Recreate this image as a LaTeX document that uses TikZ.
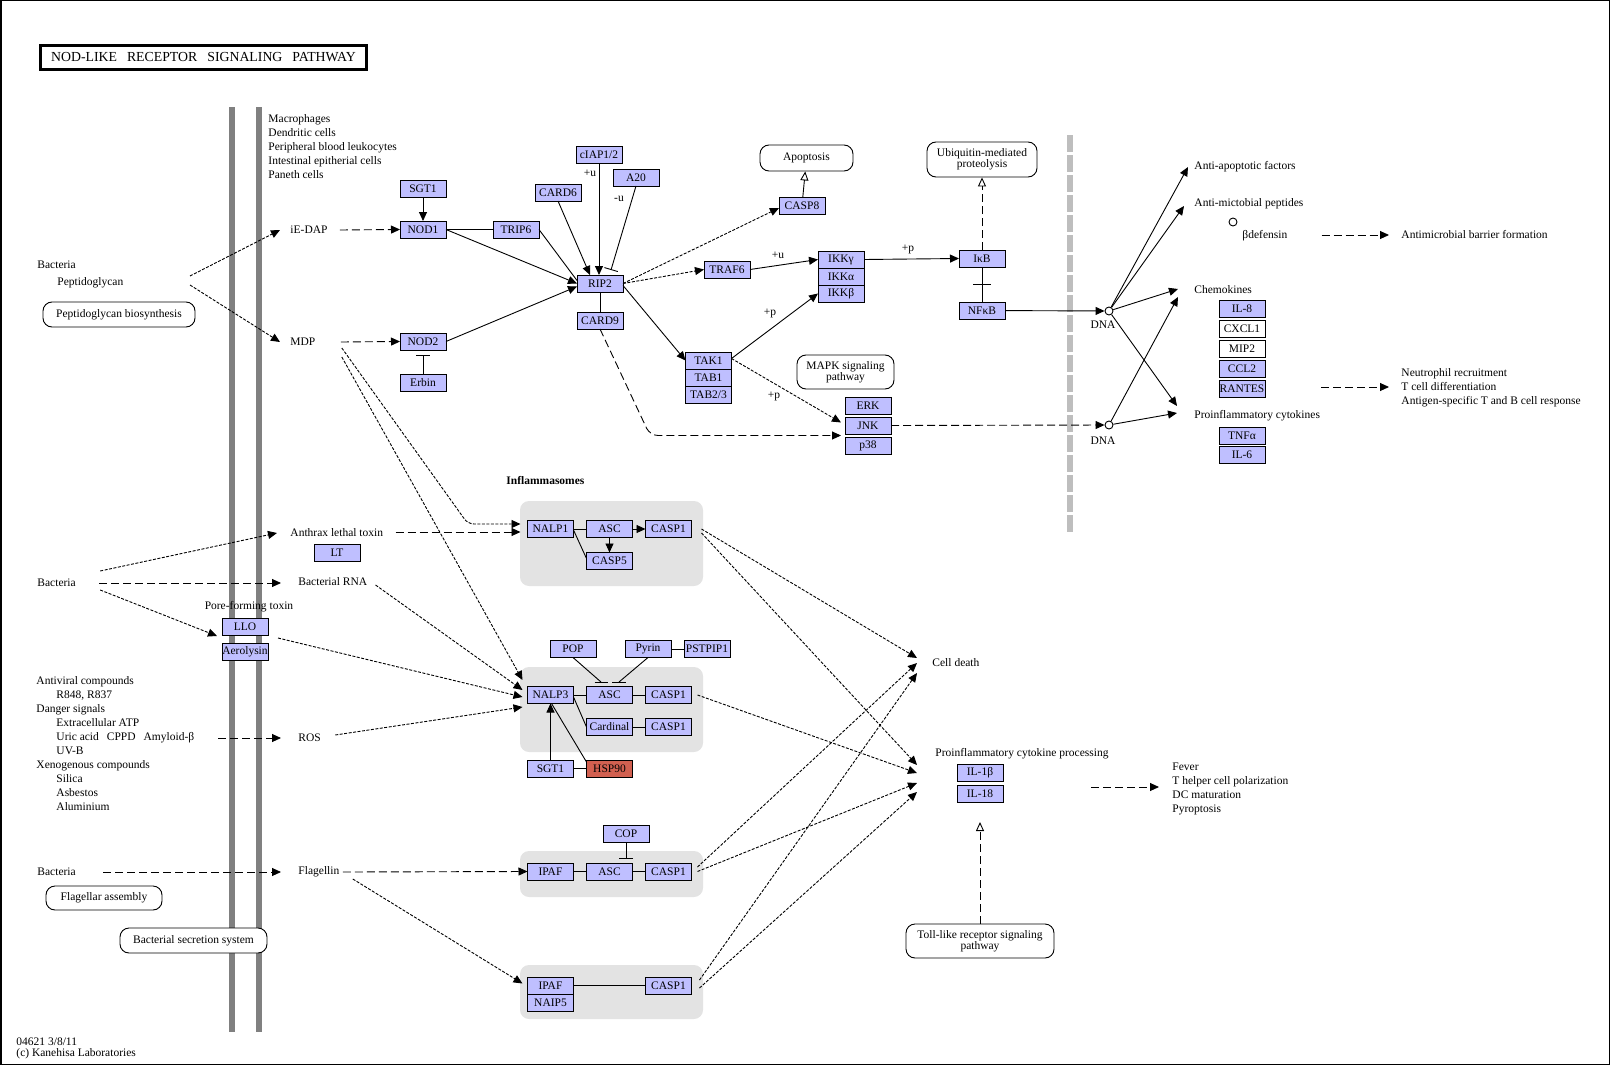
\documentclass[tikz,border=0pt]{standalone}
\usepackage{fontspec}
\setmainfont{Liberation Serif}
\usetikzlibrary{arrows.meta, positioning}
\usepackage{xcolor}

\definecolor{keggblue}{RGB}{191,191,255}
\definecolor{keggred}{RGB}{209,96,80}
\definecolor{infgray}{RGB}{227,227,227}
\definecolor{membgray}{RGB}{128,128,128}
\definecolor{nucgray}{RGB}{190,190,190}
\newcommand{\kgfont}{\fontsize{11.5}{14}\selectfont}

\begin{document}
\begin{tikzpicture}[
x=1pt, y=-1pt,
node distance=13pt,
line width=0.9pt,
gene/.style={draw, fill=keggblue, minimum width=46pt, minimum height=17pt,
inner sep=0pt, outer sep=0pt, font=\kgfont},
genewhite/.style={gene, fill=white},
genered/.style={gene, fill=keggred},
pathmap/.style={draw, rounded corners=9pt, fill=white, align=center,
inner sep=0pt, font=\fontsize{11.5}{11.5}\selectfont},
lbl/.style={inner sep=0pt, anchor=west, align=left, font=\kgfont},
plabel/.style={inner sep=0pt, font=\kgfont},
act/.style={-{Triangle[length=9pt, width=8pt]}},
indir/.style={act, dash pattern=on 8pt off 4pt},
indirf/.style={act, dash pattern=on 3pt off 1.5pt},
inhib/.style={-{Bar[width=14pt]}},
expr/.style={-{Triangle[open, length=9pt, width=8pt]}},
exprd/.style={expr, dash pattern=on 8pt off 4pt},
dna/.style={draw, circle, fill=white, minimum size=8pt, inner sep=0pt}
]
\useasboundingbox (0,0) rectangle (1610,1065);
\draw[line width=1.5pt] (0.75,0.75) rectangle (1609.25,1064.25);

% membranes and complexes
\fill[membgray] (229,107) rectangle (235,1032);
\fill[membgray] (256,107) rectangle (262,1032);
\draw[nucgray, line width=6pt, dash pattern=on 17pt off 3pt] (1070,135) -- (1070,532);
\fill[infgray, rounded corners=9pt] (520,501) rectangle (703,586);
\fill[infgray, rounded corners=9pt] (520,667) rectangle (703,752);
\fill[infgray, rounded corners=9pt] (520,851) rectangle (703,897);
\fill[infgray, rounded corners=9pt] (520,965) rectangle (703,1019);

\node[draw, line width=2.5pt, minimum width=326pt, minimum height=24pt, inner sep=0pt,
font=\fontsize{13.8}{16}\selectfont] (title) at (203.5,57.5)
{NOD-LIKE\hspace{10pt}RECEPTOR\hspace{10pt}SIGNALING\hspace{10pt}PATHWAY};

% NOD1 / NOD2 signalling
\node[gene] (sgtA) at (423,188.5) {SGT1};
\node[gene] (nodA) at (423,229.5) {NOD1};
\node[gene] (trip) at (516,229.5) {TRIP6};
\node[gene] (nodB) at (423,341.5) {NOD2};
\node[gene] (erbin) at (423,382.5) {Erbin};
\node[gene] (cardB) at (558,192.5) {CARD6};
\node[gene] (ciap) at (599,154.5) {cIAP1/2};
\node[gene] (atwenty) at (636,177.5) {A20};
\node[gene] (rip) at (600,283.5) {RIP2};
\node[gene] (cardC) at (600,320.5) {CARD9};
\node[gene] (casp8) at (802,205.5) {CASP8};
\node[gene] (traf) at (727,269.5) {TRAF6};
\node[gene] (ikkg) at (841,259.5) {IKKγ};
\node[gene, below=0pt of ikkg] (ikka) {IKKα};
\node[gene, below=0pt of ikka] (ikkb) {IKKβ};
\node[gene] (tak) at (708.5,360.5) {TAK1};
\node[gene, below=0pt of tak] (tab1) {TAB1};
\node[gene, below=0pt of tab1] (tab2) {TAB2/3};
\node[gene] (erk) at (868,405.5) {ERK};
\node[gene, below=3pt of erk] (jnk) {JNK};
\node[gene, below=3pt of jnk] (p38) {p38};
\node[gene] (ikb) at (982,258.5) {IκB};
\node[gene] (nfkb) at (982,310.5) {NFκB};
\node[gene] (il8) at (1242,308.5) {IL-8};
\node[genewhite, below=3pt of il8] (cxcl) {CXCL1};
\node[genewhite, below=3pt of cxcl] (mip) {MIP2};
\node[gene, below=3pt of mip] (ccl) {CCL2};
\node[gene, below=3pt of ccl] (rantes) {RANTES};
\node[gene] (tnf) at (1242,435.5) {TNFα};
\node[gene, below=2pt of tnf] (ilsix) {IL-6};

% inflammasomes
\node[gene] (lt) at (337,552.5) {LT};
\node[gene] (llo) at (245,627) {LLO};
\node[gene, below=8pt of llo] (aero) {Aerolysin};
\node[gene] (nalpA) at (550.5,529) {NALP1};
\node[gene, right=of nalpA] (ascA) {ASC};
\node[gene, right=of ascA] (caspA) {CASP1};
\node[gene, below=15pt of ascA] (casp5) {CASP5};
\node[gene] (nalpC) at (550.5,695) {NALP3};
\node[gene, right=of nalpC] (ascB) {ASC};
\node[gene, right=of ascB] (caspB) {CASP1};
\node[gene, below=15pt of ascB] (cardinal) {Cardinal};
\node[gene, right=of cardinal] (caspC) {CASP1};
\node[gene] (sgtB) at (550.5,768.5) {SGT1};
\node[genered, right=of sgtB] (hsp) {HSP90};
\node[gene] (pop) at (573,649) {POP};
\node[gene] (pyrin) at (648,649) {Pyrin};
\node[gene, right=of pyrin] (pstpip) {PSTPIP1};
\node[gene] (ipafA) at (550.5,871.5) {IPAF};
\node[gene, right=of ipafA] (ascC) {ASC};
\node[gene, right=of ascC] (caspD) {CASP1};
\node[gene] (cop) at (626,833.5) {COP};
\node[gene] (ipafB) at (550.5,985.5) {IPAF};
\node[gene, below=0pt of ipafB] (naip) {NAIP5};
\node[gene] (caspE) at (668.5,985.5) {CASP1};
\node[gene] (ilonebeta) at (980,772.5) {IL-1β};
\node[gene, below=4pt of ilonebeta] (ileighteen) {IL-18};

% pathway maps
\node[pathmap, minimum width=152pt, minimum height=25pt] (pgbio) at (119,314.5) {Peptidoglycan biosynthesis};
\node[pathmap, minimum width=93pt, minimum height=26pt] (apop) at (806.5,158) {Apoptosis};
\node[pathmap, minimum width=110pt, minimum height=35pt] (ubiq) at (982,159.5) {Ubiquitin-mediated\\proteolysis};
\node[pathmap, minimum width=97pt, minimum height=34pt] (mapk) at (845.5,372) {MAPK signaling\\pathway};
\node[pathmap, minimum width=116pt, minimum height=24pt] (flagasm) at (104,898) {Flagellar assembly};
\node[pathmap, minimum width=147pt, minimum height=25pt] (secret) at (193.5,940.5) {Bacterial secretion system};
\node[pathmap, minimum width=148pt, minimum height=34pt] (toll) at (980,941) {Toll-like receptor signaling\\pathway};

% texts
\node[lbl] (cells) at (268,147) {Macrophages\\Dendritic cells\\Peripheral blood leukocytes\\Intestinal epitherial cells\\Paneth cells};
\node[lbl] (bactA) at (37,265) {Bacteria};
\node[lbl] (peptido) at (57,283) {Peptidoglycan};
\node[lbl] (iedap) at (290,230) {iE-DAP};
\node[lbl] (mdp) at (290,342) {MDP};
\node[lbl] (anthrax) at (290,533) {Anthrax lethal toxin};
\node[lbl] (bactB) at (37,583) {Bacteria};
\node[lbl] (bactrna) at (298,582) {Bacterial RNA};
\node[plabel] (pore) at (249,607) {Pore-forming toxin};
\node[lbl] (compounds) at (36,743.5) {Antiviral compounds\\\hspace*{20pt}R848, R837\\Danger signals\\\hspace*{20pt}Extracellular ATP\\\hspace*{20pt}Uric acid\hspace{8pt}CPPD\hspace{8pt}Amyloid-β\\\hspace*{20pt}UV-B\\Xenogenous compounds\\\hspace*{20pt}Silica\\\hspace*{20pt}Asbestos\\\hspace*{20pt}Aluminium};
\node[lbl] (ros) at (298,738) {ROS};
\node[lbl] (bactC) at (37,872) {Bacteria};
\node[lbl] (flag) at (298,872) {Flagellin};
\node[lbl, font=\kgfont\bfseries] (inflam) at (506,481) {Inflammasomes};
\node[lbl] (celldeath) at (932,663) {Cell death};
\node[lbl] (proc) at (935,754) {Proinflammatory cytokine processing};
\node[lbl] (fever) at (1172,789) {Fever\\T helper cell polarization\\DC maturation\\Pyroptosis};
\node[dna] (dnaA) at (1109,311) {};
\node[plabel] (dnaAl) at (1103,325) {DNA};
\node[dna] (dnaB) at (1109,425) {};
\node[plabel] (dnaBl) at (1103,441) {DNA};
\node[lbl] (antiapo) at (1194,167) {Anti-apoptotic factors};
\node[lbl] (antimic) at (1194,204) {Anti-mictobial peptides};
\node[dna] (bdefc) at (1233,222) {};
\node[lbl] (bdef) at (1242,236) {βdefensin};
\node[lbl] (barrier) at (1401,235) {Antimicrobial barrier formation};
\node[lbl] (chemok) at (1194,290) {Chemokines};
\node[lbl] (proinf) at (1194,416) {Proinflammatory cytokines};
\node[lbl] (neutro) at (1401,388) {Neutrophil recruitment\\T cell differentiation\\Antigen-specific T and B cell response};
\node[plabel] (uA) at (590,173) {+u};
\node[plabel] (uB) at (619,199) {-u};
\node[plabel] (uC) at (778,255) {+u};
\node[plabel] (pA) at (770,313) {+p};
\node[plabel] (pB) at (774,396) {+p};
\node[plabel] (pC) at (908,249) {+p};
\node[lbl, font=\fontsize{11.5}{11}\selectfont] (footer) at (16,1048.5) {04621 3/8/11\\(c) Kanehisa Laboratories};

% entry of ligands
\coordinate (pgA) at (190,276);
\coordinate (pgB) at (190,285);
\coordinate (dangerout) at (218,738);
\draw[indirf] (pgA) -- ([xshift=-10pt]iedap.west);
\draw[indirf] (pgB) -- ([xshift=-10pt]mdp.west);
\draw[indir] ([xshift=12pt]iedap.east) -- (nodA.west);
\draw[indir] ([xshift=25pt]mdp.east) -- (nodB.west);
\draw[indirf] ([xshift=24pt,yshift=12pt]bactB.east) -- ([xshift=-13pt]anthrax.west);
\draw[indir] ([xshift=23pt]bactB.east) -- ([xshift=-17pt,yshift=-1pt]bactrna.west);
\draw[indirf] ([xshift=24pt,yshift=-7pt]bactB.east) -- ([xshift=-5pt,yshift=-9pt]llo.west);
\draw[indir] (dangerout) -- ([xshift=-17pt]ros.west);
\draw[indir] ([xshift=27pt]bactC.east) -- ([xshift=-17pt]flag.west);

% NOD signalling
\draw[act] (sgtA) -- (nodA);
\draw (nodA) -- (trip);
\draw[act] (nodA.east) -- (rip.west);
\draw (trip.east) -- ([yshift=3pt]rip.west);
\draw[act] (nodB.east) -- ([yshift=-3pt]rip.west);
\draw[inhib] (erbin) -- ([yshift=-5pt]nodB.south);
\draw[act] (cardB.south) -- ([xshift=-10pt]rip.north);
\draw[act] (ciap.south) -- (ciap |- rip.north);
\draw[inhib] (atwenty.south) -- ([xshift=11pt,yshift=5pt]rip.north);
\draw (rip) -- (cardC);
\draw[indirf] (rip.east) -- ([yshift=-2.5pt]casp8.west);
\draw[indirf] (rip.east) -- (traf.west);
\draw[act] ([yshift=-2pt]rip.east) -- (tak.west);
\draw[expr] (casp8) -- (apop);
\draw[act] (traf.east) -- (ikkg.west);
\draw[act] ([yshift=2pt]tak.east) -- (ikkb.west);
\draw[indirf] ([yshift=2pt]tak.east) -- ([xshift=-4pt,yshift=3pt]jnk.west);
\draw[indir, rounded corners=8pt] (cardC.south) -- (650,435.5) -- ([xshift=-4pt,yshift=-10pt]jnk.west);
\draw[act] (ikkg.east) -- (ikb.west);
\draw (ikb) -- coordinate (ikbmid) (nfkb);
\draw ([xshift=-9pt]ikbmid) -- ([xshift=9pt]ikbmid);
\draw[exprd] (ikb) -- (ubiq);
\draw[act] (nfkb) -- (dnaA);
\draw[indir] (jnk.east) -- (dnaB);
\draw[act] (dnaA) -- ([xshift=-6pt]antiapo.west);
\draw[act] (dnaA) -- ([xshift=-10pt,yshift=-2pt]antimic.west);
\draw[act] (dnaA) -- ([xshift=-16pt,yshift=1pt]chemok.west);
\draw[act] (dnaA) -- ([xshift=-17pt,yshift=10pt]proinf.west);
\draw[act] (dnaB) -- ([xshift=-16pt,yshift=-7pt]chemok.west);
\draw[act] (dnaB) -- ([xshift=-17pt,yshift=3pt]proinf.west);
\draw[indir] ([xshift=34pt,yshift=1pt]bdef.east) -- ([xshift=-12pt]barrier.west);
\draw[indir] ([xshift=56pt,yshift=1.5pt]rantes.east) -- ([xshift=-12pt,yshift=1pt]neutro.west);

% into the inflammasomes
\draw[indirf, rounded corners=6pt] ([xshift=26pt,yshift=-6pt]mdp.east) -- (468,524) -- ([xshift=-7pt,yshift=5pt]nalpA.west);
\draw[indir] ([xshift=12pt,yshift=1pt]anthrax.east) -- ([xshift=-7pt,yshift=-3pt]nalpA.west);
\draw[indirf] ([xshift=26pt,yshift=-15pt]mdp.east) -- ([xshift=-5pt,yshift=15pt]nalpC.west);
\draw[indirf] ([xshift=8pt,yshift=-3pt]bactrna.east) -- ([xshift=-5pt,yshift=5pt]nalpC.west);
\draw[indirf] ([xshift=10pt,yshift=-11pt]llo.east) -- ([xshift=-5pt,yshift=-2pt]nalpC.west);
\draw[indirf] ([xshift=14pt,yshift=3pt]ros.east) -- ([xshift=-5pt,yshift=-12pt]nalpC.west);
\draw[indir] ([xshift=3pt]flag.east) -- (ipafA.west);
\draw[indirf] ([xshift=13pt,yshift=-7pt]flag.east) -- ([xshift=-5pt,yshift=2pt]ipafB.west);

% inside the inflammasomes
\draw (nalpA) -- (ascA);
\draw[act] (ascA) -- (caspA);
\draw[act] (ascA) -- (casp5);
\draw ([yshift=-1pt]nalpA.east) -- ([yshift=2.5pt]casp5.west);
\draw (nalpC) -- (ascB);
\draw (ascB) -- (caspB);
\draw ([yshift=-2pt]nalpC.east) -- (cardinal.west);
\draw (cardinal) -- (caspC);
\draw[act] (sgtB) -- (nalpC);
\draw (sgtB) -- (hsp);
\draw ([yshift=6.5pt]hsp.west) -- ([xshift=1pt]nalpC.south);
\draw (pop.south) -- ([xshift=-8.5pt,yshift=4.5pt]ascB.north) coordinate (popbar);
\draw ([xshift=-6.5pt]popbar) -- ([xshift=6.5pt]popbar);
\draw (pyrin.south) -- ([xshift=9.5pt,yshift=4.5pt]ascB.north) coordinate (pyrinbar);
\draw ([xshift=-7pt]pyrinbar) -- ([xshift=7pt]pyrinbar);
\draw (pyrin) -- (pstpip);
\draw[inhib] (cop.south) -- ([yshift=4pt]ascC.north -| cop);
\draw (ipafA) -- (ascC);
\draw (ascC) -- (caspD);
\draw (ipafB) -- (caspE);

% outcomes
\draw[indirf] ([xshift=10pt]caspA.east) -- ([xshift=-15pt,yshift=5pt]celldeath.west);
\draw[indirf] ([xshift=10pt,yshift=-4pt]caspA.east) -- ([xshift=-18pt,yshift=-11pt]proc.west);
\draw[indirf] ([xshift=6pt]caspB.east) -- ([xshift=-18pt,yshift=-19pt]proc.west);
\draw[indirf] ([xshift=6pt,yshift=4.5pt]caspD.east) -- ([xshift=-15pt]celldeath.west);
\draw[indirf] ([xshift=6pt]caspD.east) -- ([xshift=-18pt,yshift=-29pt]proc.west);
\draw[indirf] ([xshift=8pt,yshift=5.5pt]caspE.east) -- ([xshift=-15pt,yshift=-10pt]celldeath.west);
\draw[indirf] ([xshift=8pt,yshift=-2.5pt]caspE.east) -- ([xshift=-18pt,yshift=-38pt]proc.west);
\draw[indir] ([xshift=88pt,yshift=6.5pt]ileighteen.east) -- ([xshift=-13pt,yshift=2pt]fever.west);
\draw[exprd] (toll) -- ([yshift=-20pt]ileighteen.south);

\end{tikzpicture}
\end{document}
